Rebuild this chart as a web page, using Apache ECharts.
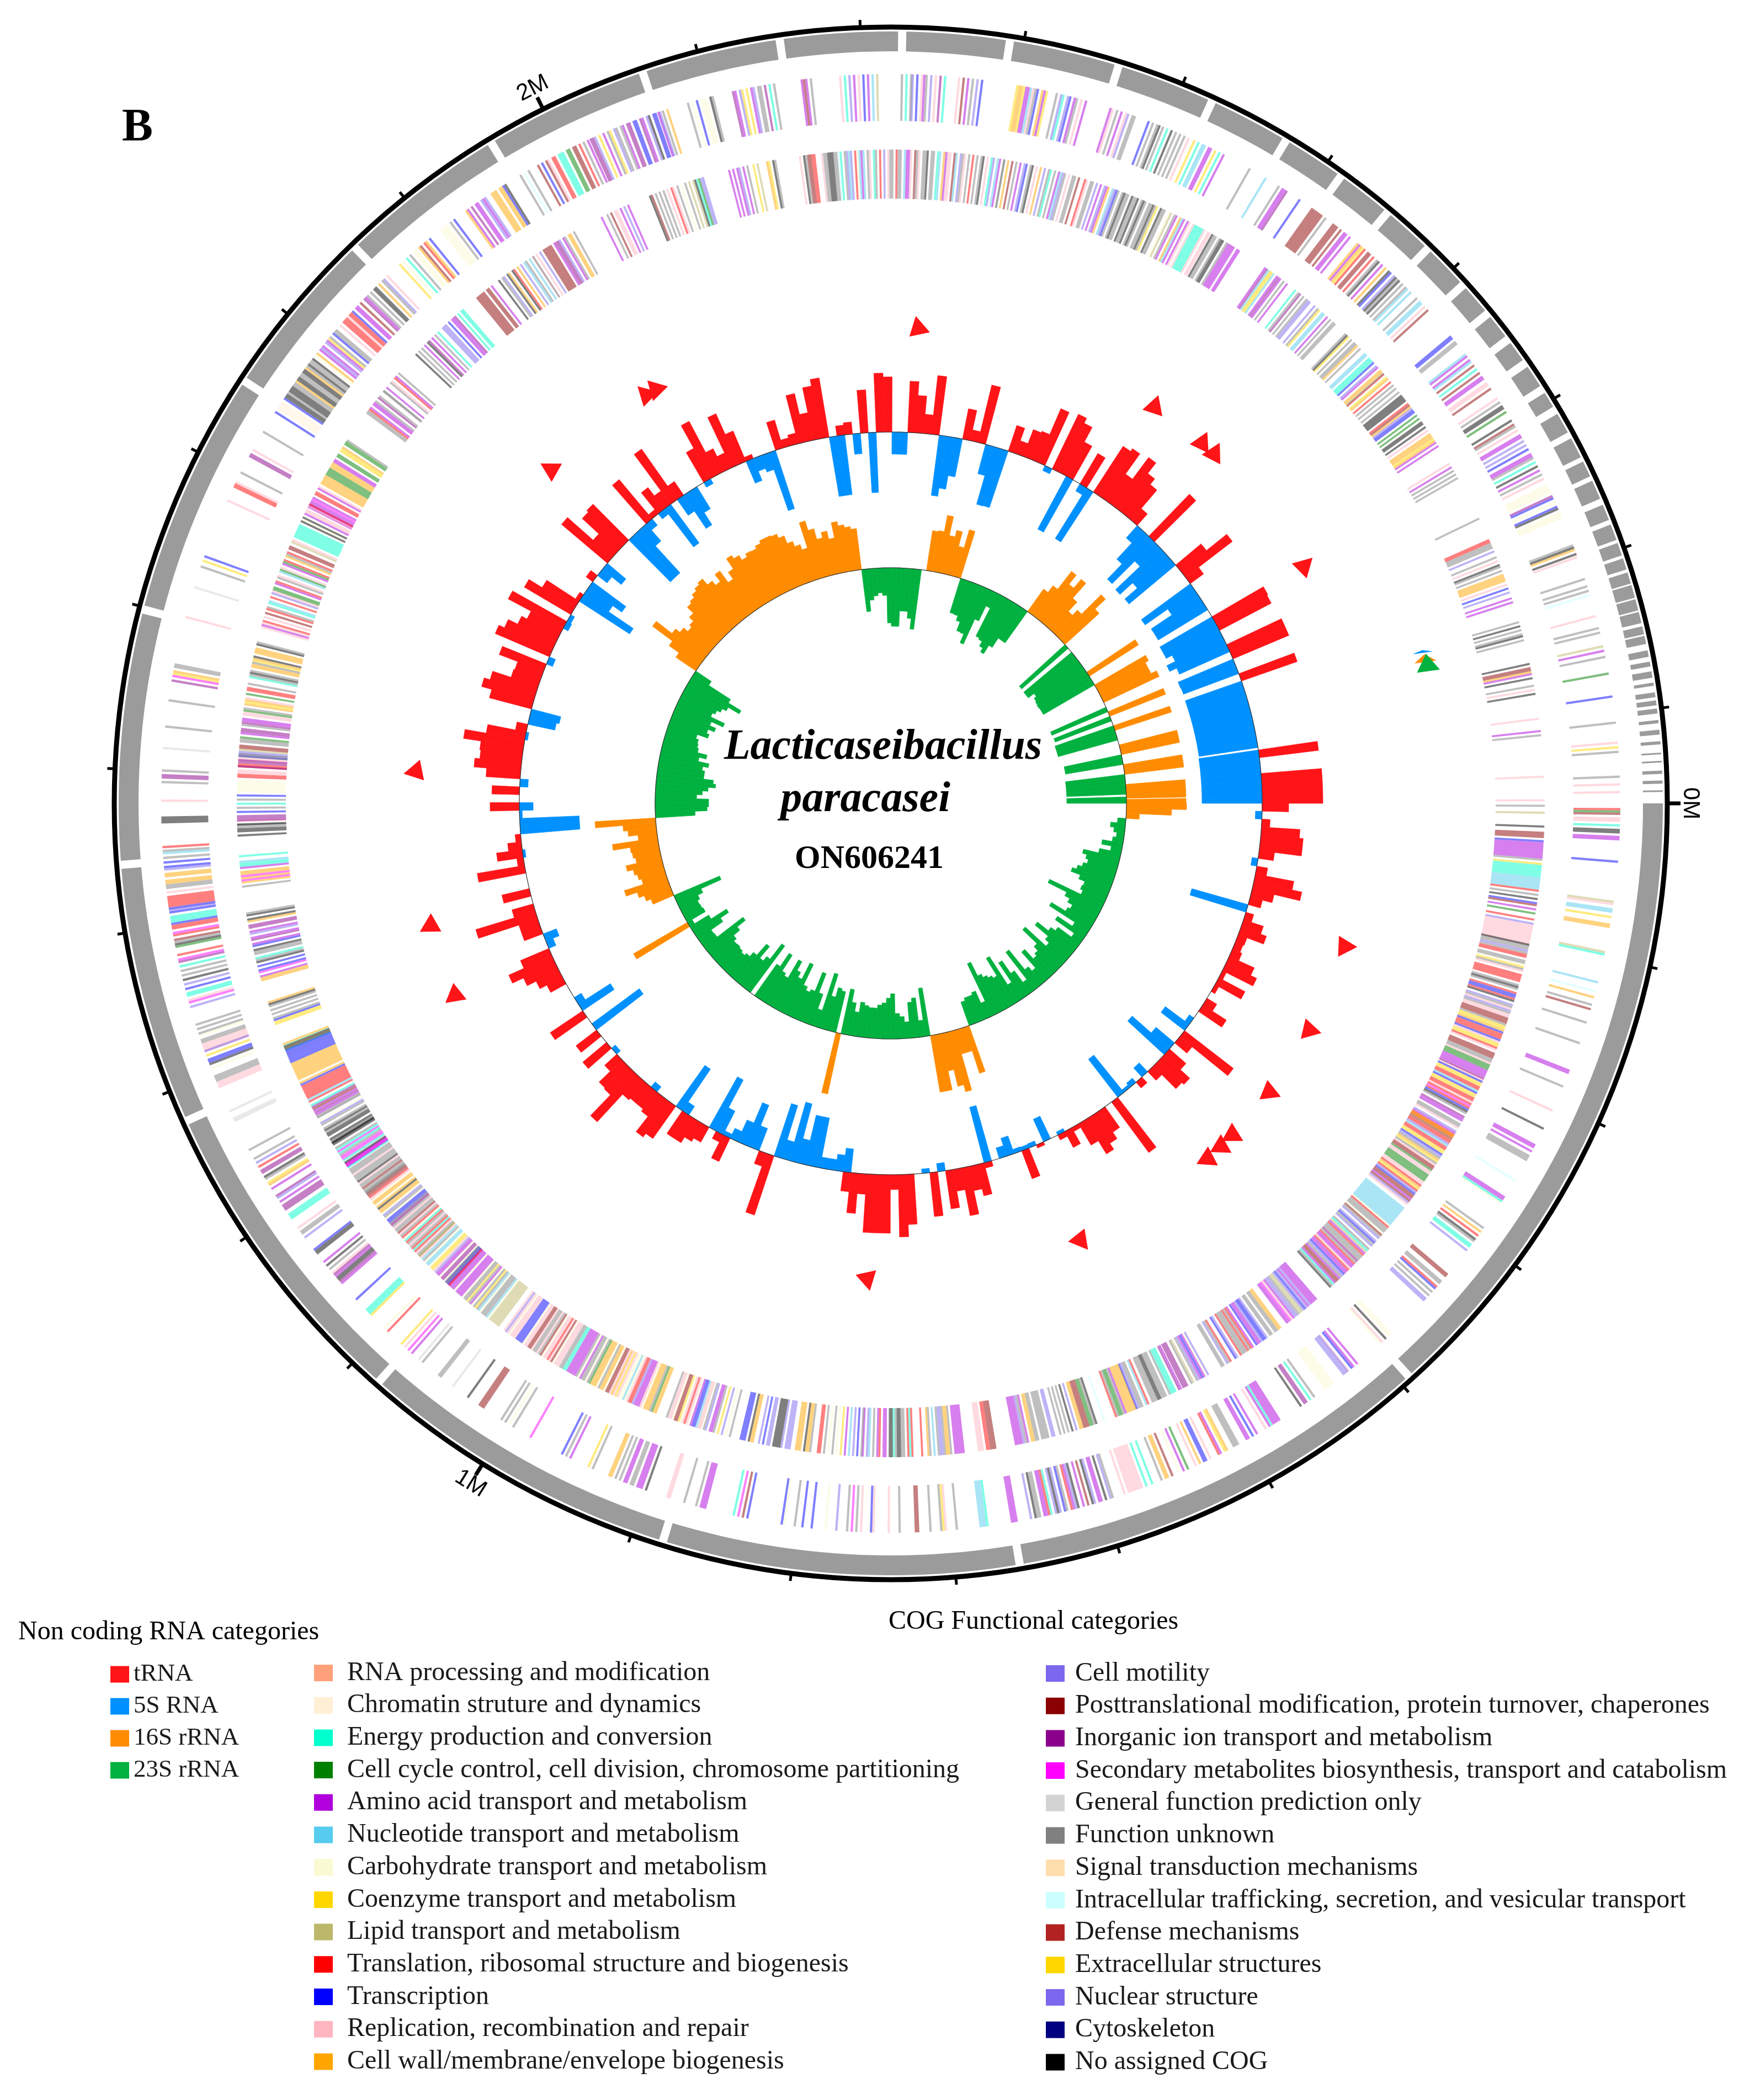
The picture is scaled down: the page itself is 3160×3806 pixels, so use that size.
<!DOCTYPE html>
<html><head><meta charset="utf-8"><title>Lacticaseibacillus paracasei ON606241</title>
<style>html,body{margin:0;padding:0;background:#fff}#c{width:3160px;height:3806px}</style>
<script src="https://cdn.jsdelivr.net/npm/echarts@6/dist/echarts.min.js"></script></head>
<body><div id="c"></div>
<script>
// genome length in kb and tick labels
const genomeKb = 2958;
const majorTicks = [[0,'0M'],[1000,'1M'],[2000,'2M']];
// non coding RNA counts per 10 kb window: [window start kb, height, optional width]
const tRNA = [[0,48],[20,15],[30,70],[40,77],[50,77],[60,28],[80,20],[90,71],[100,89],[110,41],[120,23],[140,15],[150,38],[160,49],[170,17],[180,15],[190,19],[200,50],[210,62],[220,8],[230,54],[240,8],[260,21],[270,51],[310,112],[320,29],[340,40],[350,63],[360,58],[370,22],[390,14],[430,114],[450,46],[460,60],[470,73],[480,45],[490,8],[500,33],[510,10],[540,6],[560,54],[610,10],[620,58],[630,45],[640,88],[650,40],[660,70],[680,80],[710,91],[720,113],[730,27],[740,106],[750,106],[760,106],[770,37],[780,73],[790,35],[890,113],[900,25],[950,47],[960,15],[980,31],[990,38],[1000,50],[1010,50],[1030,72],[1040,80],[1050,45],[1060,40],[1070,40],[1080,44],[1090,112],[1100,60],[1110,58],[1120,30],[1140,56],[1160,47],[1190,71],[1240,32],[1250,46],[1260,64],[1270,86],[1280,56],[1310,36],[1320,36],[1330,113],[1340,40],[1360,51],[1390,87],[1400,12],[1410,47],[1420,25],[1430,10],[1470,53],[1490,50],[1510,62],[1520,85],[1530,76],[1540,78],[1550,110],[1560,71],[1570,20],[1600,79],[1610,98],[1620,87],[1630,52],[1640,50],[1650,86],[1670,107],[1680,96],[1690,77],[1700,66],[1710,113],[1730,98],[1740,70],[1750,8],[1780,15],[1810,109],[1820,47],[1830,88],[1840,92],[1880,93],[1890,10],[1900,49],[1910,30],[1920,112],[1930,30],[1970,63],[1980,110],[1990,46],[2000,30],[2010,101],[2020,60],[2030,8],[2070,53],[2080,15],[2090,20],[2100,90],[2110,51],[2120,97],[2130,109],[2150,18],[2160,22],[2180,78],[2200,107],[2210,100],[2240,93],[2250,68],[2260,35],[2270,107],[2310,56],[2320,20],[2330,107],[2370,49],[2380,25],[2390,52],[2400,55],[2410,106],[2430,110],[2440,100],[2450,70],[2470,64],[2490,99],[2500,105],[2510,60],[2520,109],[2530,85],[2540,72],[2550,28],[2580,106],[2630,60],[2640,107],[2650,30],[2710,108],[2720,106],[2750,110],[2760,110],[2790,107],[2890,108],[2920,110],[2930,110],[2940,110],[2950,110]];
const rRNA5S = [[10,12],[70,11],[130,106],[290,10],[300,54],[330,44],[340,90],[380,22],[400,10],[410,6],[420,87],[510,6],[530,45],[550,8],[560,7],[570,8],[580,34],[590,20],[610,104],[670,15],[690,8],[790,43],[800,30],[810,20],[820,20],[830,92],[840,92],[850,45],[860,110],[870,35],[880,100],[910,43],[920,83],[930,43],[940,20],[950,8],[960,48],[970,105],[1010,19],[1020,91],[1060,12],[1130,9],[1170,107],[1200,69],[1210,15],[1290,14],[1300,26],[1410,5],[1440,108],[1450,108],[1460,5],[1470,25],[1500,15],[1560,5],[1580,50],[1590,55],[1660,12],[1710,10],[1720,8],[1750,109],[1760,55],[1770,75],[1790,22],[1800,44],[1850,107],[1860,107],[1870,41],[1880,15],[1900,12],[1910,87],[1930,35],[1940,73],[1950,47],[1970,10],[2030,43],[2040,25],[2050,32],[2060,111],[2140,109],[2150,109],[2170,37],[2190,109],[2220,40],[2230,40],[2280,110],[2290,95],[2300,70],[2340,55],[2350,109],[2360,108],[2420,10],[2450,109],[2470,15],[2480,108],[2560,30],[2570,70],[2580,108],[2590,50],[2600,111],[2610,80],[2620,110],[2660,110],[2670,60],[2680,105],[2690,105],[2710,109],[2720,109],[2730,97],[2740,114],[2750,100],[2770,108],[2780,107],[2800,108],[2810,108],[2820,108],[2830,108],[2840,108],[2850,108],[2860,108],[2870,108],[2880,108,7],[2890,109],[2900,109],[2910,109],[2920,109],[2930,109],[2940,109],[2950,109]];
const rRNA16S = [[0,109],[10,82],[20,24],[580,88],[590,45],[600,45],[610,113],[620,100],[630,69],[640,104],[650,104],[840,112],[1220,113],[1290,41],[1300,50],[1310,60],[1320,81],[1330,45],[1340,50],[1350,55],[1360,66],[1370,46],[1380,50],[1390,52],[1400,83],[1410,35],[1420,52],[1430,60],[1440,110],[1760,44],[1770,66],[1780,111],[1790,75],[1800,65],[1810,55],[1820,60],[1830,70],[1840,85],[1850,89],[1860,95],[1870,100],[1880,104],[1890,90],[1900,80],[1910,96],[1920,70],[1930,85],[1940,107],[1950,100],[1960,90],[1970,96],[1980,95],[1990,100],[2000,105],[2010,105],[2020,103],[2030,95],[2040,80],[2050,70],[2060,60],[2070,108],[2080,90],[2090,70],[2100,80],[2110,65],[2120,93],[2130,85],[2140,80],[2150,75],[2290,73],[2300,75],[2310,105],[2320,70],[2330,82],[2340,55],[2350,89],[2510,50],[2520,65],[2530,106],[2540,85],[2550,106],[2560,70],[2570,47],[2580,60],[2590,110],[2600,84],[2680,106],[2710,107],[2720,100],[2730,100],[2740,111],[2770,109],[2800,108],[2840,108],[2850,108],[2880,108],[2890,108],[2920,108],[2930,108],[2940,108,8],[2950,108]];
const rRNA23S = [[30,15],[40,27],[50,20],[60,14],[70,20],[80,38],[90,20],[100,40],[110,68],[120,60],[130,55],[140,62],[150,70],[160,78],[170,60],[180,48],[190,50],[200,45],[210,108],[220,70],[230,60],[240,50],[250,55],[260,85],[270,30],[280,62],[290,20],[300,50],[310,60],[320,85],[330,54],[340,45],[350,96],[360,60],[370,50],[380,45],[390,68],[400,30],[410,40],[420,86],[430,24],[440,50],[450,78],[460,36],[470,97],[480,60],[490,65],[500,70],[510,77],[520,105],[530,30],[540,54],[550,50],[560,50],[570,45],[660,88],[670,30],[680,72],[690,65],[700,30],[710,40],[720,46],[730,82],[740,74],[750,65],[760,61],[770,55],[780,55],[790,58],[800,63],[810,44],[820,60],[830,83],[850,76],[860,80],[870,62],[880,103],[890,32],[900,60],[910,97],[920,60],[930,55],[940,62],[950,103],[960,70],[970,80],[980,98],[990,60],[1000,65],[1010,99],[1020,70],[1040,105],[1050,70],[1060,60],[1070,87],[1080,60],[1090,50],[1100,45],[1110,48],[1120,50],[1130,49],[1140,55],[1150,70],[1160,89],[1170,30],[1180,29],[1190,55],[1200,73],[1210,40],[1220,10],[1230,38],[1240,36],[1250,35],[1260,40],[1270,50],[1280,90],[1450,72],[1460,94],[1470,97],[1480,97],[1490,75],[1500,85],[1510,95],[1520,108],[1530,103],[1540,85],[1550,85],[1560,80],[1570,90],[1580,70],[1590,83],[1600,65],[1610,62],[1620,60],[1630,55],[1640,75],[1650,70],[1660,82],[1670,70],[1680,93],[1690,65],[1700,70],[1710,77],[1720,85],[1730,108],[1740,81],[1750,34],[2160,77],[2170,57],[2180,50],[2190,45],[2200,50],[2210,100],[2220,106],[2230,106],[2240,78],[2250,78],[2260,90],[2270,109],[2360,65],[2370,66],[2380,75],[2390,92],[2400,93],[2410,110],[2420,60],[2430,30],[2440,87],[2450,90],[2460,100],[2470,108],[2480,90],[2490,70],[2500,70],[2610,112],[2630,113],[2640,113],[2650,100],[2660,105],[2670,107],[2680,108],[2690,107],[2700,107],[2760,110],[2780,109],[2800,112],[2810,112],[2820,112],[2860,106],[2870,106],[2900,108],[2910,108],[2920,108],[2930,108],[2945,108,13]];
// strongly predicted single loci shown as markers outside the rings
const tRNAMarks = [143,233,306,362,378,396,546,762,1283,1356,1510,1844,1964,1975,2245,2494,2553,2569,2712];
const rRNA5SMark = [1002,2827], rRNA16SMark = [1003,2833], rRNA23SMark = [1005,2837];
// stretches (start kb, end kb) of the grey ruler track
const contigs = [[0,391],[396,658],[663,878],[883,1078],[1083,1277],[1282,1439],[1444,1596],[1601,1749],[1754,1855],[1860,1960],[1965,2062],[2067,2148],[2153,2223],[2228,2289],[2294,2357],[2362,2418],[2423,2469],[2474,2509],[2514,2545],[2550,2578],[2583,2609],[2614,2632],[2637,2652],[2657,2670],[2675,2689],[2694,2704],[2709,2722],[2726,2739],[2742,2752],[2755,2767],[2771,2781],[2784,2794],[2796,2804],[2806,2813],[2815,2822],[2823,2831],[2832,2839],[2840,2847],[2849,2854],[2855,2860],[2864,2868],[2871,2874],[2877,2881],[2884,2886],[2890,2893],[2895,2898],[2900,2903],[2907,2909],[2913,2916],[2920,2922],[2927,2928],[2932,2933],[2938,2940],[2944,2946],[2950,2951]];
// COG categories, code letter used in the gene strings below
const cogCol1 = ['RNA processing and modification','Chromatin struture and dynamics','Energy production and conversion','Cell cycle control, cell division, chromosome partitioning','Amino acid transport and metabolism','Nucleotide transport and metabolism','Carbohydrate transport and metabolism','Coenzyme transport and metabolism','Lipid transport and metabolism','Translation, ribosomal structure and biogenesis','Transcription','Replication, recombination and repair','Cell wall/membrane/envelope biogenesis'];
const cogCol2 = ['Cell motility','Posttranslational modification, protein turnover, chaperones','Inorganic ion transport and metabolism','Secondary metabolites biosynthesis, transport and catabolism','General function prediction only','Function unknown','Signal transduction mechanisms','Intracellular trafficking, secretion, and vesicular transport','Defense mechanisms','Extracellular structures','Nuclear structure','Cytoskeleton','No assigned COG'];
const cogColors1 = ['#FFA07A','#FFEFD5','#00FFCC','#008000','#B000DD','#56CCEE','#FAFAD2','#FFD700','#BDB76B','#FF0000','#0000FF','#FFB6C1','#FFA500'];
const cogColors2 = ['#7B68EE','#8B0000','#8B008B','#FF00FF','#D3D3D3','#808080','#FFDEAD','#CCFFFF','#B22222','#FFD700','#7B68EE','#000080','#000000'];
const cogCodes1 = 'aheGmlwytrbno';
const cogCodes2 = 'vdpMqgsifxczk';
const ncNames = ['tRNA','5S RNA','16S rRNA','23S rRNA'];
const ncColors = ['#FF1418','#0091FF','#FF8C00','#00B140'];
// genes on each strand: [cluster start kb, one letter per 1.5 kb; '.' = no gene]
const outerGenes = [[3,'rGd.nn.e.kk.mm'],[37,'b'],[63,'tn'],[68,'ll'],[73,'y'],[78,'oo'],[96,'te'],[116,'l'],[122,'i'],[126,'o'],[131,'g.d'],[143,'g'],[157,'g'],[176,'mm'],[187,'g'],[204,'n'],[217,'k'],[229,'mm.m'],[237,'ggg'],[255,'i'],[268,'mmew'],[292,'g.o.r.kg.ee.v'],[330,'dd..gg.rb.g.g.vv'],[383,'ww.k.nw'],[412,'m.mb.n'],[420,'vvv'],[432,'wwwww'],[447,'g.e.pp.k'],[474,'mmmm'],[480,'em.n'],[491,'m.b.mm'],[505,'ggg'],[513,'oy.mr'],[525,'n.bb.o.n'],[541,'G.m.w'],[552,'d.oo.g'],[566,'e'],[570,'e.nnnnnnn.n'],[593,'gv.k.mm.vk.d.m'],[616,'kvmr.gb.vkv.er'],[637,'mm.ggk.v..'],[657,'mmm'],[676,'elll'],[696,'g'],[703,'nyg'],[713,'g'],[721,'dd'],[733,'g'],[740,'n'],[750,'nb'],[758,'n.g.M.g'],[774,'v'],[781,'w'],[790,'b'],[796,'b'],[801,'g'],[808,'wb'],[832,'b.d.M.e'],[860,'mmm.g'],[874,'g'],[884,'nn'],[900,'k.mmm.gg.mm.g'],[921,'g.oo'],[937,'g.y'],[953,'m.g.b'],[982,'M'],[995,'g.w.g.g'],[1018,'ddd'],[1030,'k'],[1042,'q'],[1052,'gg'],[1067,'g.q'],[1076,'m.M.n.y'],[1097,'r.w'],[1112,'yeee'],[1126,'b'],[1140,'mpkkmpn'],[1152,'g.k.m'],[1165,'kkb'],[1178,'v.gg.n'],[1193,'eee'],[1200,'ppp.m.vp'],[1216,'m.oy.gk.pp.r.v.g'],[1245,'g'],[1266,'qq'],[1273,'q'],[1290,'nnnggg'],[1303,'w.kbb.y.b'],[1315,'nnnngg.wg.g.g'],[1345,'v.Mn.ee.b.v.k.g.g.e.pM.r'],[1385,'Gkgd.rM.rrbeee.bv'],[1410,'brrrrr.n.ggoo.oo.vb'],[1440,'b.g.lg'],[1450,'r'],[1466,'kkk'],[1480,'n'],[1492,'g.pp.g'],[1514,'q'],[1528,'g'],[1545,'g'],[1558,'p.Myo.gg'],[1600,'n'],[1620,'q'],[1634,'g'],[1638,'y.b'],[1680,'n'],[1690,'rrn'],[1700,'g'],[1712,'pp.n'],[1730,'g'],[1745,'b.hhhh.b'],[1757,'kkgkkkggokkggkkogkggk'],[1790,'wo.mcm.vmyg.bgg'],[1815,'n.rrrnrrb.mm.d'],[1838,'pmg.g.kk.o.gv.n'],[1870,'y.w.e.g.ww.o'],[1888,'d.ro.b'],[1905,'wwww.g.b'],[1925,'om.p.mm.vmv'],[1945,'ooo.oobk'],[1967,'g.i.g'],[1980,'d.b.dn.rr'],[1995,'eee.GG.dd.r.g.m'],[2018,'ppv.y.m.gy.vg.gm.pp.bb.pm.vk.bb.v'],[2065,'m.g.o'],[2085,'g.w.b.www.kg'],[2115,'pm.vy.y.mv.gg.p.e.g'],[2160,'mdm.g'],[2185,'n.e.v.m.n.b.m.l.t'],[2225,'g.e.g'],[2232,'v.b.nmg.v.n.p.e'],[2262,'n.d.m.g.v.b'],[2300,'yooymmlngb.omy'],[2326,'g.ve.vb.mg.n.m'],[2362,'mn.g.m.nv.gg'],[2388,'b.g.gk'],[2398,'g.e.k.g.g.g.n'],[2420,'y.e.ll.mm.y.e.m'],[2460,'g'],[2472,'l'],[2482,'g.mmp'],[2498,'b'],[2508,'dddddd.g'],[2525,'ddd.d.mm.m'],[2545,'omoyr.dd.r.gk.m.o'],[2572,'kb.vkgk.g.gl.l'],[2597,'g.ll.n.d'],[2630,'bb.gg'],[2645,'lm.ml.d.e.d.mm'],[2668,'nn.d'],[2680,'n.g.kk.G'],[2697,'k.dg.n'],[2708,'mm.v.v.b'],[2722,'mmg.e.k.m.g.n'],[2745,'wwww.pb.w.bk.www'],[2787,'gko.k'],[2795,'n'],[2810,'g'],[2815,'g.g.i'],[2835,'n'],[2843,'g.g'],[2855,'t.m'],[2862,'g'],[2873,'G'],[2888,'b'],[2905,'g'],[2918,'n.y.g'],[2940,'g'],[2945,'n'],[2950,'n']];
const innerGenes = [[2955,'n'],[1,'g'],[6,'t'],[16,'k..ddd.bmmmmmmmmg.yeeeeeellllllr.g.k.bd.m.G..r.vnnnnnnnnnn'],[102,'kggvgrr.ggwygn.rrrr.gkg.rbbrk.vgnvgnndddgyyobrrrbnyyrn.dddggnGGGmmmmp'],[205,'nbyyrrlbyyrrnrMrbkg.pmm.ggn.vmooo'],[250,'rrbrrvlrryybvgoygnddGnnGGGGnnroyrvbddmdvn'],[314,'lllllllllll'],[330,'wrgggwdgv.vbgv.getmrgggpgrmmnrmmbvgmddmegk'],[405,'mmmmvmvbvttgvvmnMmm'],[438,'oogg.gg.vbbvmmb.mrgrgggr.vb'],[481,'rgv.gg'],[500,'vwmbmvg.tg'],[517,'ppp'],[522,'mp.eeeg.gggkkggg'],[548,'rl.ggvb'],[558,'ooooomgGGgr'],[582,'i'],[588,'kgGGdddoo.v.k.g.g.g..vv.gggg.ggoo.mgvmmmm'],[663,'dddrr.nnn'],[686,'mmmmm.googvvg.l.go..r'],[723,'rer.ggkkgekk.mm.rm.g.lv.m'],[760,'g.b.v.l.m.y.w.g.w.g.rr'],[797,'gook.ooo..vvv'],[818,'vkkkk.vv.b.v..ook.bbb'],[856,'g.w.v.y.gmm.vg.w'],[878,'nnlbbmwnrnwyddwnng'],[912,'ooGgooownmmmvrrnwlwwnynonddwoogwoooGgwggmwgmmmmmeeggnnnwdnrnnwdgng'],[1011,'gnddnnwbbbbnnnwnvn'],[1042,'ttttttwlgggwlgygwmgyggwmmmmwmmmmgg'],[1088,'rbbwppwmmvnyywllwglny'],[1118,'ggnrergngrewrgndggngrg'],[1148,'vvbbwgvwookowoownrddg'],[1177,'gggdggnkgggnggg.mpk'],[1200,'eMM.eMMgeMeg.kkg'],[1221,'kgk.kkgkg.gvw.g'],[1243,'gmpmdpe.rlrrrrrrrbo.ooooooooobbbbbbbdd'],[1293,'w.eeeo'],[1316,'yybg.g.g.gko'],[1349,'oom.Mb.b.kge.ggk.bm.pm.vm.pp.ok.kg'],[1418,'g.oMoMoo.meel'],[1440,'e'],[1455,'k.kkgg.n'],[1463,'k.ppp.b.g.e.g.b.wwwwww.rrnn.p.pp.gg.t'],[1505,'rr.nnbvv.dd.ggG.mpp.gpmm.nnGg.oyon.G.rr.g'],[1570,'egkg.oogyok.ooo.kg'],[1607,'nmnr.n.d.rg.el.r.vnGG.mr.gn.lGn.mGr.ogr.dd'],[1672,'tn.eeeeeee.kwk.mnn.nr'],[1700,'mmmmMm.rr.mn.oooooGGGGooomm.GG.yyo.GGg'],[1780,'ggrm.mmg.pg..g'],[1800,'g.m..gn.rm.g'],[1835,'k.g.g.m.kp.m.g.e'],[1862,'vvv.b.mmp.e.ee'],[1895,'ddddd.dd.m'],[1915,'k.gv.ko.kr.o.v.lg.l.n'],[1945,'g.n.v.ddddd.mppv.mg.oo.g'],[2002,'m..g.d.nn.m.v.m'],[2040,'kd.g.g.g.n.rn.g.w.g.t.tkeGvv'],[2100,'m.m.mv.m.g..y.t'],[2128,'oy.kg'],[2152,'n.kgddrr'],[2168,'nggkkkggie.gvlv.rwlml.gn.eg.r.v.ngg.rgg.lmmn.dgn.ggk.gg.el.omnn.dl.vgn.g.r.g.gk.n.ev.lm.g'],[2300,'g.o.d.g.m.vb.gk.n.o.v.ge.g.mlvg.n.gg.d'],[2360,'rn.gg.v.m'],[2375,'vmo.lvbg.gkgg.kggk.gkg.ggkgy.kgg'],[2425,'wt.gm.olm.mn.neeeeen.nn'],[2460,'kgg.gkk.gmmmm.mm'],[2505,'mplyyl.mpm.g.m'],[2532,'e.gp.g.gvv'],[2550,'v.gy.ll.m.g.gg'],[2580,'gky.g.ggo.g'],[2600,'ll.eeeb.vm.oog'],[2620,'r.yo.r.g.g'],[2637,'g.kkkk.rdovbb.G.G.kk.k.n.oooyom.m'],[2700,'n.m.g.g.g'],[2745,'g'],[2762,'rrggg.v..g.n.kg.g.oooo.n.b.v..m.m'],[2825,'g.k.g.gk.g'],[2856,'k.ddom.k'],[2872,'g.n.k'],[2896,'n'],[2905,'m.g'],[2938,'n']];

// ---- track geometry (styling, not data) ----
const R_AXIS = 1407, R_GREY0 = 1363, R_GREY1 = 1399, R_OUT0 = 1237, R_OUT1 = 1322, R_IN0 = 1096, R_IN1 = 1185,
      R_NC_OUT = 673, R_NC_IN = 427, R_MARK = 868, GENE_UNIT = 1.5, FONT = '"Liberation Serif"';

function band(api, a0, a1, r0, r1) {
  a1 = Math.min(a1, genomeKb);
  const n = Math.max(1, Math.ceil((a1 - a0) / 8)), pts = [];
  for (let i = 0; i <= n; i++) pts.push(api.coord([r1, a0 + (a1 - a0) * i / n]));
  for (let i = n; i >= 0; i--) pts.push(api.coord([r0, a0 + (a1 - a0) * i / n]));
  return pts;
}
function bandSeries(name, data, color, opacity, seam, z) {
  return { type: 'custom', name, coordinateSystem: 'polar', silent: true, animation: false, clip: false, z, progressive: 0,
    itemStyle: { color }, encode: { angle: [0, 1], radius: [2, 3] }, data,
    renderItem: (p, api) => ({ type: 'polygon', shape: { points: band(api, api.value(0), api.value(1), api.value(2), api.value(3)) },
      style: { fill: color, opacity, stroke: seam ? color : null, lineWidth: seam ? 0.7 : 0 } }) };
}
function ncData(list, base, dir) {
  return list.map(d => { const w = d[2] || 10;
    return dir > 0 ? [d[0], d[0] + w, base, base + d[1]] : [d[0], d[0] + w, base - d[1], base]; });
}
function geneItems(clusters, r0, r1, out) {
  clusters.forEach(([start, seq]) => {
    let i = 0;
    while (i < seq.length) {
      const ch = seq[i]; let j = i;
      while (j < seq.length && seq[j] === ch) j++;
      if (ch !== '.') (out[ch] = out[ch] || []).push([start + i * GENE_UNIT, start + j * GENE_UNIT, r0, r1]);
      i = j;
    }
  });
  return out;
}
const geneByCode = {};
geneItems(outerGenes, R_OUT0, R_OUT1, geneByCode);
geneItems(innerGenes, R_IN0, R_IN1, geneByCode);

const series = [];
cogCol1.forEach((n, i) => series.push(bandSeries(n, geneByCode[cogCodes1[i]] || [], cogColors1[i], 0.5, false, 2)));
cogCol2.forEach((n, i) => series.push(bandSeries(n, geneByCode[cogCodes2[i]] || [], cogColors2[i], 0.5, false, 2)));

// grey ruler
series.push(bandSeries('Contigs', contigs.map(c => [c[0], c[1], R_GREY0, R_GREY1]), '#9B9B9B', 1, false, 2));

series.push(bandSeries(ncNames[0], ncData(tRNA, R_NC_OUT, 1), ncColors[0], 1, true, 3));
series.push(bandSeries(ncNames[1], ncData(rRNA5S, R_NC_OUT, -1), ncColors[1], 1, true, 3));
series.push(bandSeries(ncNames[2], ncData(rRNA16S, R_NC_IN, 1), ncColors[2], 1, true, 3));
series.push(bandSeries(ncNames[3], ncData(rRNA23S, R_NC_IN, -1), ncColors[3], 1, true, 3));

// thin base circles of the two ncRNA rings
series.push(bandSeries('Baselines', [[0, genomeKb, R_NC_OUT - 0.6, R_NC_OUT + 0.6], [0, genomeKb, R_NC_IN - 0.6, R_NC_IN + 0.6]], '#333', 1, false, 4));

const kbToDeg = kb => kb * 360 / genomeKb;
const opaque = c => ({ color: c, opacity: 1 });
series.push({ type: 'scatter', name: 'tRNA loci', coordinateSystem: 'polar', silent: true, animation: false, z: 5,
  symbol: 'triangle', symbolSize: [38, 34], itemStyle: opaque(ncColors[0]),
  symbolRotate: v => -75 - kbToDeg(v[1]), data: tRNAMarks.map(k => [R_MARK, k]) });
series.push({ type: 'scatter', name: '5S locus', coordinateSystem: 'polar', silent: true, animation: false, z: 5,
  symbol: 'triangle', symbolSize: [38, 5], symbolRotate: 8, itemStyle: opaque(ncColors[1]), data: [rRNA5SMark] });
series.push({ type: 'scatter', name: '16S locus', coordinateSystem: 'polar', silent: true, animation: false, z: 5,
  symbol: 'triangle', symbolSize: [40, 14], symbolRotate: 8, itemStyle: opaque(ncColors[2]), data: [rRNA16SMark] });
series.push({ type: 'scatter', name: '23S locus', coordinateSystem: 'polar', silent: true, animation: false, z: 6,
  symbol: 'triangle', symbolSize: [42, 32], symbolRotate: 8, itemStyle: opaque(ncColors[3]), data: [rRNA23SMark] });

// longer major ticks with their labels
const labelRot = [-90, -32, 27];
series.push({ type: 'custom', name: 'Major ticks', coordinateSystem: 'polar', silent: true, animation: false, clip: false, z: 7,
  encode: { angle: 0 }, data: majorTicks.map(t => [t[0]]),
  renderItem: (p, api) => {
    const a = api.coord([R_AXIS, api.value(0)]), b = api.coord([R_AXIS + 24, api.value(0)]), c = api.coord([R_AXIS + 42, api.value(0)]);
    const rot = labelRot[p.dataIndex] * Math.PI / 180;
    return { type: 'group', children: [
      { type: 'line', shape: { x1: a[0], y1: a[1], x2: b[0], y2: b[1] }, style: { stroke: '#000', lineWidth: 7 } },
      { type: 'text', x: c[0], y: c[1], rotation: rot,
        style: { text: majorTicks[p.dataIndex][1], font: '42px "Liberation Sans"', fill: '#000', align: 'center', verticalAlign: 'middle' } }
    ] };
  } });

const legendOf = (names, colors, left, top, gap, pad, fontSize) => ({ orient: 'vertical', left, top, padding: 0, itemWidth: 34, itemHeight: 30,
  itemGap: gap, selectedMode: false, textStyle: { fontFamily: FONT, fontSize, color: '#1a1a1a', padding: [0, 0, 0, pad] },
  data: names.map((n, i) => ({ name: n, icon: 'rect', itemStyle: { color: colors[i], opacity: 1 } })) });

const txt = (text, x, y, font, align) => ({ type: 'text', x, y, silent: true, z: 20,
  style: { text, font, fill: '#000', align: align || 'center', verticalAlign: 'middle' } });

const chart = echarts.init(document.getElementById('c'), null, { renderer: 'canvas', width: 3160, height: 3806 });
chart.setOption({
  backgroundColor: '#fff', animation: false,
  polar: { center: [1614, 1456], radius: [0, R_AXIS] },
  radiusAxis: { type: 'value', min: 0, max: R_AXIS, axisLine: { show: false }, axisTick: { show: false }, axisLabel: { show: false }, splitLine: { show: false } },
  angleAxis: { type: 'value', min: 0, max: genomeKb, interval: 100, startAngle: 0, clockwise: true,
    axisLine: { lineStyle: { color: '#000', width: 9 } }, axisTick: { length: 14, lineStyle: { color: '#000', width: 5 } },
    axisLabel: { show: false }, splitLine: { show: false } },
  legend: [
    legendOf(ncNames, ncColors, 200, 3012, 13, 3, 45),
    legendOf(cogCol1, cogColors1, 569, 3008, 10.7, 21, 48),
    legendOf(cogCol2, cogColors2, 1895, 3009, 10.7, 14, 48)
  ],
  graphic: { elements: [
    txt('B', 249, 233, 'bold 84px ' + FONT),
    txt('Lacticaseibacillus', 1600, 1355, 'italic bold 78px ' + FONT),
    txt('paracasei', 1568, 1450, 'italic bold 78px ' + FONT),
    txt('ON606241', 1575, 1557, 'bold 60px ' + FONT),
    txt('Non coding RNA categories', 33, 2958, '48px ' + FONT, 'left'),
    txt('COG Functional categories', 1610, 2939, '48px ' + FONT, 'left')
  ] },
  series
});
</script></body></html>
